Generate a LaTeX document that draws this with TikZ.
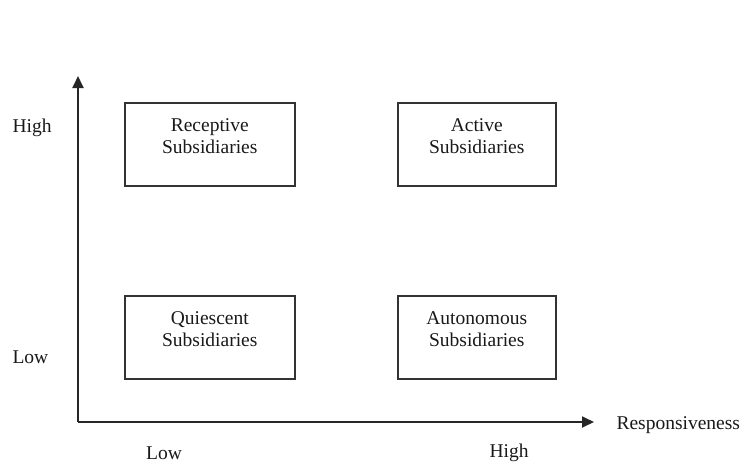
\documentclass[tikz,border=0pt]{standalone}
\usepackage{fontspec}
\setmainfont{Liberation Serif}
\usetikzlibrary{arrows.meta}
\begin{document}
\begin{tikzpicture}[x=1pt,y=-1pt,
  quad/.style={draw=black!80,line width=1.5pt,minimum width=170pt,minimum height=83pt,anchor=north west,inner sep=0pt},
  lbl/.style={font=\fontsize{19.5}{22}\selectfont,align=center,text=black!90},
  axis/.style={draw=black!85,line width=1.8pt,-{Triangle[length=12pt,width=11pt]}}]
\useasboundingbox (0,0) rectangle (744,463);
\node[quad] (rec) at (124,102) {};
\node[quad,minimum width=158pt] (act) at (397,102) {};
\node[quad] (qui) at (124,295) {};
\node[quad,minimum width=158pt] (aut) at (397,295) {};
\node[lbl,anchor=north] (rect) at ([yshift=-13pt]rec.north) {Receptive\\Subsidiaries};
\node[lbl,anchor=north] (actt) at ([yshift=-13pt]act.north) {Active\\Subsidiaries};
\node[lbl,anchor=north] (quit) at ([yshift=-13pt]qui.north) {Quiescent\\Subsidiaries};
\node[lbl,anchor=north] (autt) at ([yshift=-13pt]aut.north) {Autonomous\\Subsidiaries};
\coordinate (o) at (78,422);
\coordinate (ytip) at (78,76);
\coordinate (xtip) at (594,422);
\draw[axis] (o) -- (ytip);
\draw[axis] (o) -- (xtip);
\node[lbl,anchor=west] (yhigh) at (9,128) {High};
\node[lbl,anchor=west] (ylow) at (9,357) {Low};
\node[lbl] (xlow) at (164,453) {Low};
\node[lbl] (xhigh) at (509,453) {High};
\node[lbl,anchor=west] (resp) at (613,425) {Responsiveness};
\end{tikzpicture}
\end{document}
